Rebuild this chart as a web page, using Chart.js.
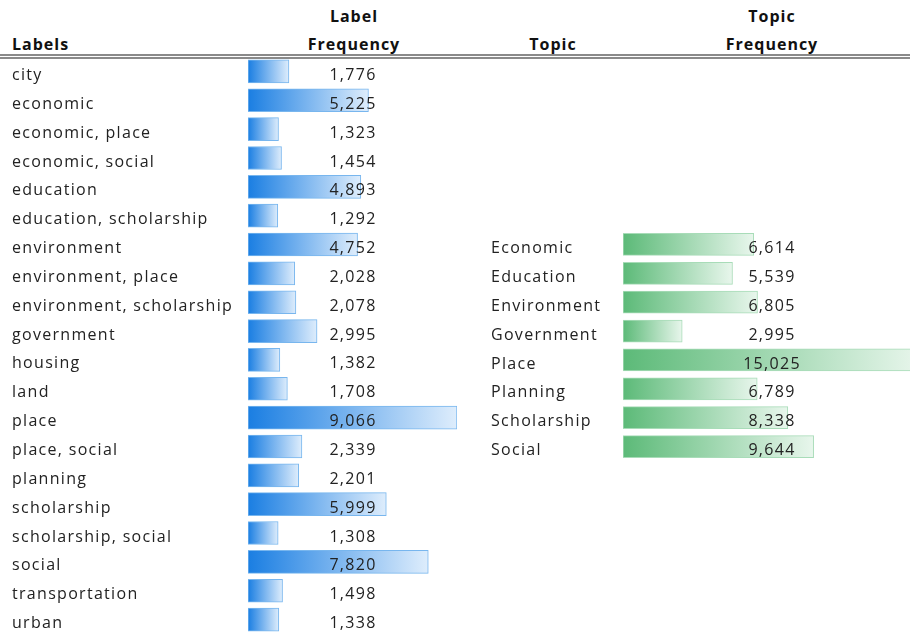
<!DOCTYPE html>
<html>
<head>
<meta charset="utf-8">
<script src="https://cdn.jsdelivr.net/npm/chart.js@4.4.1/dist/chart.umd.min.js"></script>
<style>
  html, body { margin:0; padding:0; background:#fff; overflow:hidden; width:910px; height:632px; }
  #wrap { position:relative; width:910px; height:632px; overflow:hidden; }
  .hdr { position:absolute; font-family:"Open Sans", Lato, sans-serif; font-weight:bold; font-size:16px; letter-spacing:1px; color:#111; white-space:nowrap; line-height:1; }
  .line { position:absolute; left:0; width:910px; height:2px; background:#8a8a8a; }
  canvas { position:absolute; }
</style>
</head>
<body>
<div id="wrap">
  <div class="hdr" style="left:12px; top:36px;">Labels</div>
  <div class="hdr" style="left:354px; top:8px; transform:translateX(-50%);">Label</div>
  <div class="hdr" style="left:354px; top:36px; transform:translateX(-50%);">Frequency</div>
  <div class="hdr" style="left:553px; top:36px; transform:translateX(-50%);">Topic</div>
  <div class="hdr" style="left:772px; top:8px; transform:translateX(-50%);">Topic</div>
  <div class="hdr" style="left:772px; top:36px; transform:translateX(-50%);">Frequency</div>
  <div class="line" style="top:54px;"></div>
  <div class="line" style="top:57px;"></div>
  <canvas id="left" style="left:0; top:0;"></canvas>
  <canvas id="right" style="left:470px; top:0;"></canvas>
</div>
<script>
const labelNames = ["city","economic","economic, place","economic, social","education","education, scholarship","environment","environment, place","environment, scholarship","government","housing","land","place","place, social","planning","scholarship","scholarship, social","social","transportation","urban"];
const labelFrequency = [1776,5225,1323,1454,4893,1292,4752,2028,2078,2995,1382,1708,9066,2339,2201,5999,1308,7820,1498,1338];
const topicNames = ["Economic","Education","Environment","Government","Place","Planning","Scholarship","Social"];
const topicFrequency = [6614,5539,6805,2995,15025,6789,8338,9644];

const FONT = '16px "Open Sans", Lato, sans-serif';
const fmt = v => v.toLocaleString('en-US');

function gradientFill(rgbStart, rgbEnd) {
  return function(ctx) {
    const chart = ctx.chart;
    const xs = chart.scales && chart.scales.x;
    if (!xs || ctx.parsed === undefined || ctx.parsed === null) return 'rgb(' + rgbStart + ')';
    const x0 = xs.getPixelForValue(0);
    const x1 = xs.getPixelForValue(ctx.parsed.x);
    if (!isFinite(x0) || !isFinite(x1) || x1 <= x0) return 'rgb(' + rgbStart + ')';
    const g = chart.ctx.createLinearGradient(x0, 0, x1, 0);
    g.addColorStop(0, 'rgb(' + rgbStart + ')');
    g.addColorStop(1, 'rgb(' + rgbEnd + ')');
    return g;
  };
}

function textPlugin(labelX, valueX) {
  return {
    id: 'tableText',
    afterDatasetsDraw(chart) {
      const c = chart.ctx;
      const ys = chart.scales.y;
      const meta = chart.getDatasetMeta(0);
      c.save();
      c.font = FONT;
      if ('letterSpacing' in c) c.letterSpacing = '1.3px';
      c.fillStyle = '#222';
      c.textBaseline = 'middle';
      chart.data.labels.forEach((lab, i) => {
        const y = ys.getPixelForValue(i) + 4;
        c.textAlign = 'left';
        c.fillText(lab, labelX, y);
        c.textAlign = 'center';
        const v = chart.data.datasets[0].data[i];
        c.fillText(fmt(v), valueX, meta.data[i].y + 4);
      });
      c.restore();
    }
  };
}

function makeChart(id, w, h, labels, data, opts) {
  const cv = document.getElementById(id);
  cv.width = w; cv.height = h;
  cv.style.width = w + 'px'; cv.style.height = h + 'px';
  return new Chart(cv, {
    type: 'bar',
    data: {
      labels: labels,
      datasets: [{
        data: data,
        backgroundColor: gradientFill(opts.c0, opts.c1),
        borderColor: opts.border,
        borderWidth: 1,
        borderSkipped: false,
        barThickness: opts.thick
      }]
    },
    options: {
      indexAxis: 'y',
      responsive: false,
      animation: false,
      events: [],
      layout: { padding: opts.pad },
      plugins: { legend: { display: false }, tooltip: { enabled: false } },
      scales: {
        x: { display: false, min: 0, max: opts.max },
        y: { display: false, offset: true }
      }
    },
    plugins: [textPlugin(opts.labelX, opts.valueX)]
  });
}

// Left table: rows 28.84px apart starting near y=57
makeChart('left', 470, 640, labelNames, labelFrequency, {
  c0: '26,126,226', c1: '222,237,252', border: 'rgb(120,182,238)', thick: 23,
  max: 9066,
  pad: { left: 248, right: 470 - 457, top: 57, bottom: 640 - 634 },
  labelX: 12, valueX: 353
});

// Right table: 8 rows aligned with rows 6..13 of the left table
makeChart('right', 470, 640, topicNames, topicFrequency, {
  c0: '92,186,120', c1: '232,246,236', border: 'rgb(168,220,184)', thick: 22,
  max: 15025,
  pad: { left: 623 - 470, right: 470 - 450, top: 230, bottom: 640 - 461 },
  labelX: 491 - 470, valueX: 772 - 470
});
</script>
</body>
</html>
